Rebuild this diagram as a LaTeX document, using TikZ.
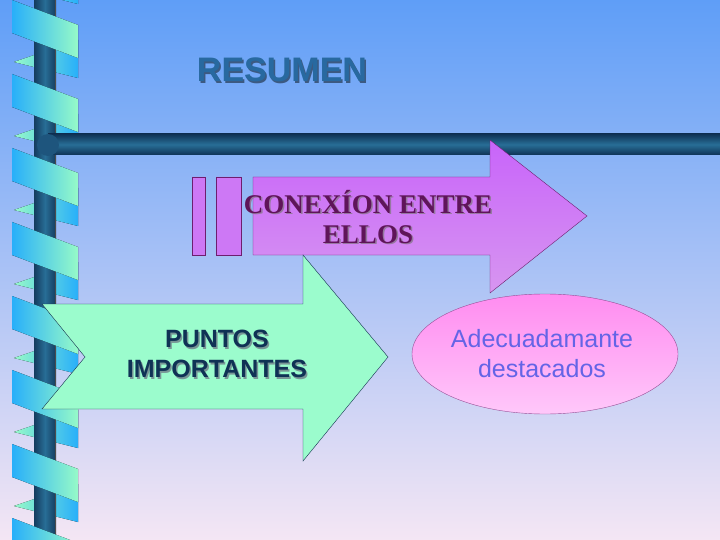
\documentclass[tikz,border=0pt]{standalone}
\usepackage{fontspec}
\setmainfont{Liberation Serif}
\setsansfont{Liberation Sans}
\definecolor{bgtop}{RGB}{95,158,247}
\definecolor{bgbot}{RGB}{244,230,244}
\definecolor{poledark}{RGB}{20,60,95}
\definecolor{polemid}{RGB}{40,110,150}
\definecolor{bardark}{RGB}{15,50,85}
\definecolor{joint}{RGB}{30,85,125}
\definecolor{titleshadow}{RGB}{60,90,130}
\definecolor{titlecol}{RGB}{40,105,160}
\definecolor{purplefill}{RGB}{205,120,245}
\definecolor{purpleline}{RGB}{110,30,110}
\definecolor{purpletop}{RGB}{200,100,250}
\definecolor{purplebot}{RGB}{215,150,240}
\definecolor{conshadow}{RGB}{150,120,160}
\definecolor{context}{RGB}{95,20,90}
\definecolor{greenline}{RGB}{20,50,80}
\definecolor{greenfill}{RGB}{155,252,205}
\definecolor{punshadow}{RGB}{120,150,150}
\definecolor{puntext}{RGB}{15,50,85}
\definecolor{elline}{RGB}{150,80,150}
\definecolor{eltop}{RGB}{255,140,240}
\definecolor{elbot}{RGB}{255,200,250}
\definecolor{adetext}{RGB}{100,100,230}
\definecolor{ribcyan}{RGB}{40,175,250}
\definecolor{ribgreen}{RGB}{150,250,200}
\begin{document}
\begin{tikzpicture}[x=1pt,y=-1pt,
  front/.style={left color=ribcyan, right color=ribgreen},
  back/.style={left color=ribgreen, right color=ribcyan}]
\useasboundingbox (0,0) rectangle (720,540);
\fill[top color=bgtop, bottom color=bgbot] (0,0) rectangle (720,540);
% ribbon back parts
\foreach \y in {-74,0,74,148,222,296,370,444,518}{
  \fill[back] (78,\y+40) -- (14,\y+62) -- (78,\y+78) -- cycle;
}
% pole
\fill[left color=poledark, right color=poledark, middle color=polemid] (34,0) rectangle (56,540);
\draw[black!70,thin] (55,0) -- (55,540);
% ribbon front parts
\foreach \y in {-74,0,74,148,222,296,370,444,518}{
  \fill[front] (12,\y) -- (78,\y+25) -- (78,\y+58) -- (12,\y+33) -- cycle;
}
% horizontal bar
\fill[top color=bardark, bottom color=bardark, middle color=polemid] (48,134) rectangle (720,155);
\fill[joint] (48,145) circle (11);
% title
\node[font=\sffamily\bfseries\fontsize{34}{40}\selectfont, text=titleshadow] at (283.5,71.5) {RESUMEN};
\node (title) [font=\sffamily\bfseries\fontsize{34}{40}\selectfont, text=titlecol] at (282,70) {RESUMEN};
% purple arrow
\path[fill=purplefill, draw=purpleline, thin] (192,177) rectangle (205,255) (216,177) rectangle (241,255);
\path[draw=purpleline, thin, top color=purpletop, bottom color=purplebot]
  (253,177) -- (490,177) -- (490,140) -- (587,216) -- (490,293) -- (490,255) -- (253,255) -- cycle;
\node[font=\bfseries\fontsize{27}{30}\selectfont, align=center, text=conshadow] at (369.5,218.5) {CONEXÍON ENTRE\\ELLOS};
\node (con) [font=\bfseries\fontsize{27}{30}\selectfont, align=center, text=context] at (368,217) {CONEXÍON ENTRE\\ELLOS};
% green arrow
\path[draw=greenline, thin, fill=greenfill]
  (42,304) -- (303,304) -- (303,255) -- (388,357) -- (303,461) -- (303,409) -- (42,409) -- (85,357) -- cycle;
\node[font=\sffamily\bfseries\fontsize{25}{30}\selectfont, align=center, text=punshadow] at (218.5,355.5) {PUNTOS\\IMPORTANTES};
\node (pun) [font=\sffamily\bfseries\fontsize{25}{30}\selectfont, align=center, text=puntext] at (217,354) {PUNTOS\\IMPORTANTES};
% ellipse
\path[draw=elline, thin, top color=eltop, bottom color=elbot] (545,354) ellipse (133 and 60);
\node (ade) [font=\sffamily\fontsize{25}{30}\selectfont, align=center, text=adetext] at (542,354) {Adecuadamante\\destacados};
\end{tikzpicture}
\end{document}
